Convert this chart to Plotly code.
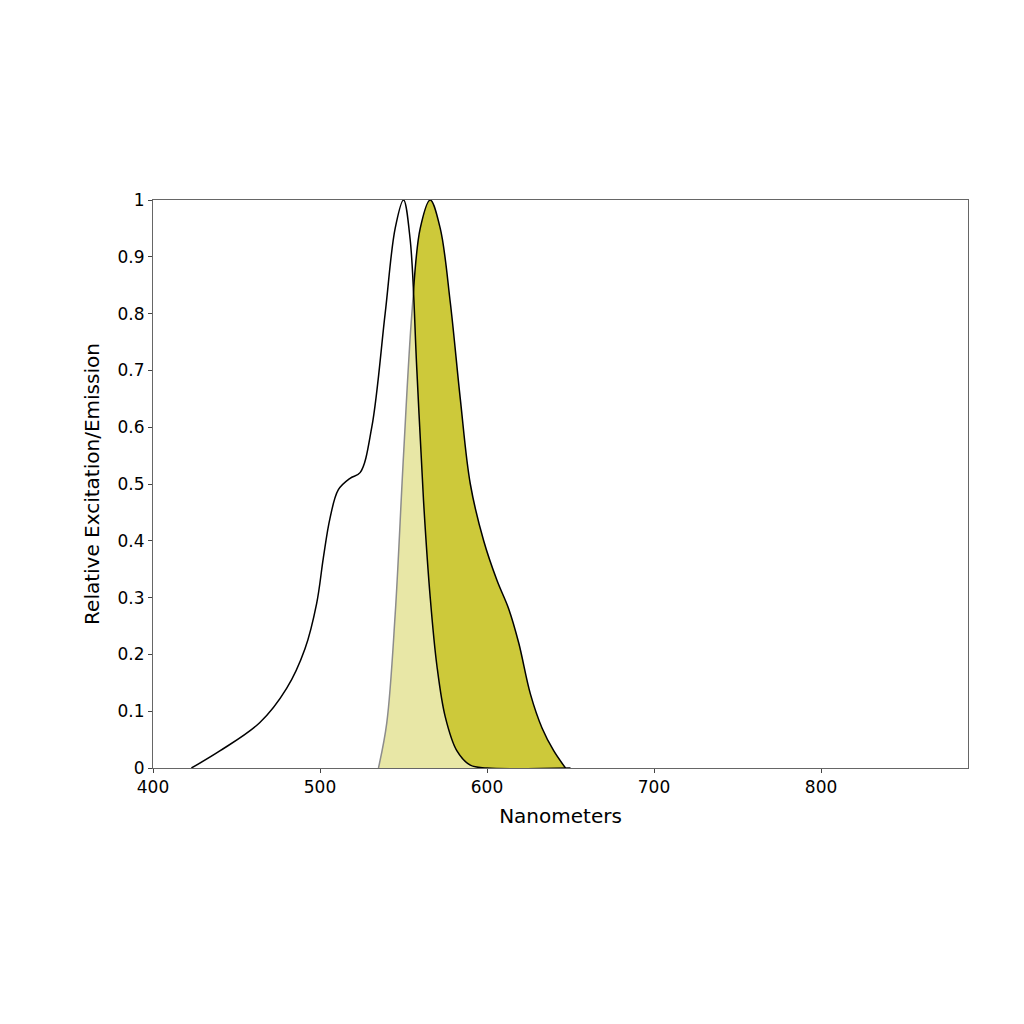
import plotly.graph_objects as go

ex_nm = [423, 440, 464, 480, 491, 498, 502, 506, 511, 518, 524, 531, 539, 545, 550, 554, 558, 562, 566, 570, 575, 582, 590, 600, 650]
ex_val = [0, 0.03, 0.08, 0.14, 0.21, 0.29, 0.37, 0.44, 0.49, 0.51, 0.52, 0.6, 0.8, 0.95, 1.0, 0.93, 0.7, 0.47, 0.3, 0.18, 0.09, 0.03, 0.005, 0, 0]
em_nm = [535, 540, 545, 550, 555, 560, 566, 572, 578, 584, 590, 598, 606, 613, 619, 626, 633, 640, 647]
em_val = [0, 0.08, 0.27, 0.55, 0.8, 0.95, 1.0, 0.95, 0.82, 0.65, 0.5, 0.4, 0.33, 0.28, 0.22, 0.13, 0.07, 0.03, 0]
y_ticks = [0, 0.1, 0.2, 0.3, 0.4, 0.5, 0.6, 0.7, 0.8, 0.9, 1]
y_labels = ["0", "0.1", "0.2", "0.3", "0.4", "0.5", "0.6", "0.7", "0.8", "0.9", "1"]

fig = go.Figure()
fig.add_trace(go.Scatter(x=em_nm, y=em_val, mode="lines", fill="tozeroy",
                         fillcolor="#cdc93a", line=dict(color="black", width=1.5, shape="spline")))
fig.add_trace(go.Scatter(x=ex_nm, y=ex_val, mode="lines", fill="tozeroy",
                         fillcolor="rgba(255,255,255,0.55)", line=dict(color="black", width=1.5, shape="spline")))
fig.update_layout(
    width=1024, height=1024, showlegend=False,
    paper_bgcolor="white", plot_bgcolor="white",
    margin=dict(l=145, r=64, t=192, b=264),
    font=dict(family="DejaVu Sans", size=17, color="black"),
    xaxis=dict(range=[400, 888], tickvals=[400, 500, 600, 700, 800], showgrid=False, zeroline=False,
               showline=True, linecolor="#666", mirror=True, ticks="outside", ticklen=4,
               title=dict(text="Nanometers", standoff=12)),
    yaxis=dict(range=[0, 1], tickvals=y_ticks, ticktext=y_labels, showgrid=False, zeroline=False,
               showline=True, linecolor="#666", mirror=True, ticks="outside", ticklen=4,
               title=dict(text="Relative Excitation/Emission", standoff=12)),
)
fig.write_html("out.html")
